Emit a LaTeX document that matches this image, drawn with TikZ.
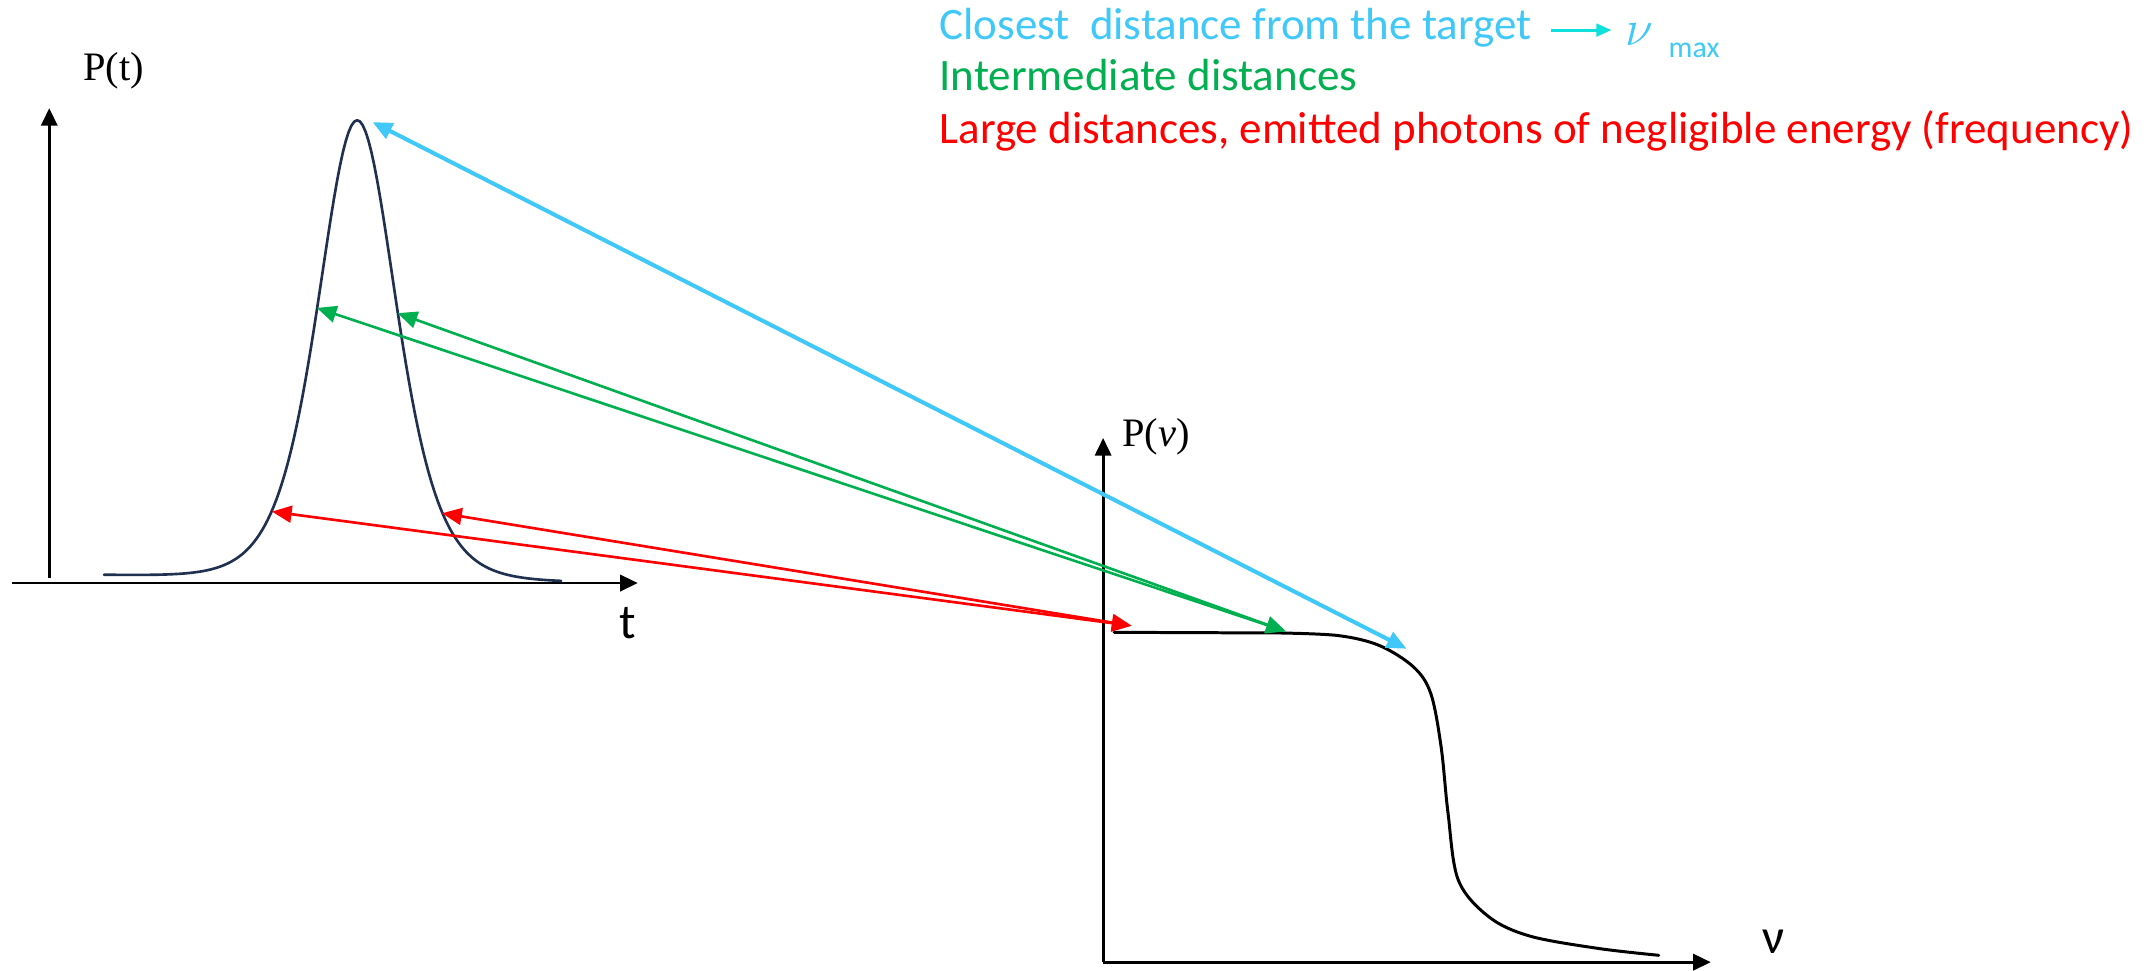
\documentclass[tikz,border=0pt]{standalone}
\usepackage{fontspec}
\setmainfont{Carlito}
\newfontfamily\plotserif{Liberation Serif}
\usetikzlibrary{arrows.meta,calc,positioning}
\definecolor{spBlue}{HTML}{40C8F8}
\definecolor{spCyan}{HTML}{10E0DC}
\definecolor{spGreen}{HTML}{00B050}
\definecolor{spRed}{HTML}{FF0000}
\definecolor{spNavy}{HTML}{1F3050}
\tikzset{
 spec/.style={line cap=round,line join=round},
 axis/.style={draw=black,line width=.8pt,line cap=butt,-{Triangle[length=5pt,width=4.6pt]}},
 pulse/.style={draw=spNavy,line width=.75pt},
 spectrum/.style={draw=black,line width=.85pt},
 link/.style={line width=.75pt,line cap=butt,
   {Triangle[length=5.6pt,width=4.8pt]}-{Triangle[length=5.6pt,width=4.8pt]}},
 nearest/.style={link,draw=spBlue,line width=1.15pt},
 middle/.style={link,draw=spGreen},
 far/.style={link,draw=spRed},
 legarrow/.style={draw=spCyan,line width=.85pt,line cap=butt,-{Triangle[length=4.3pt,width=3.6pt]}},
 axlabel/.style={font=\fontsize{14}{16}\selectfont,inner sep=0pt},
 plabel/.style={font=\plotserif\fontsize{11.5}{13}\selectfont,inner sep=0pt},
 legend/.style={font=\fontsize{12.8}{15}\selectfont,anchor=base west,inner sep=0pt}
}

\begin{document}
\begin{tikzpicture}[spec,x=0.13686mm,y=0.13686mm]
 \useasboundingbox (0,0) rectangle (1568,709);
 \coordinate (tBot) at (36,287); \coordinate (tTop) at (36,630);
 \coordinate (tLeft) at (9,283); \coordinate (tRight) at (466,283);
 \coordinate (fBot) at (806,6); \coordinate (fTop) at (806,389);
 \coordinate (fRight) at (1250,6);
 \draw[axis] (tBot)--(tTop); \draw[axis] (tLeft)--(tRight);
 \draw[axis] (fBot)--(fTop); \draw[axis] (fBot)--(fRight);
 \draw[pulse] plot[domain=76:410,samples=160]
   (\x,{289-0.015*(\x-76)+335/(cosh((\x-261)/38.5))^2});
 \draw[spectrum] (814,247)--(936,246.5) plot[smooth,tension=.55] coordinates
   {(936,246.5) (978,244.6) (1008,237.3) (1033,221.5) (1045.5,202) (1053,163)
    (1058,115) (1065.5,66) (1088,39) (1118,25) (1168,16) (1212,11)};
 \coordinate (peak) at (272.2,619.8);
 \coordinate (riseG) at (231.5,484); \coordinate (fallG) at (290.5,480.2);
 \coordinate (riseR) at (198.7,335.2); \coordinate (fallR) at (323,334);
 \coordinate (lowF) at (826.8,251.8); \coordinate (midF) at (939.5,247.7);
 \coordinate (highF) at (1027.7,235);
 \draw[nearest] (peak)--(highF);
 \draw[middle] (riseG)--(midF); \draw[middle] (fallG)--(midF);
 \draw[far] (riseR)--(lowF); \draw[far] (fallR)--(lowF);
 \node[plabel] (pt) at (83,657) {P(t)};
 \node[plabel] (pnu) at (844.6,390) {P(\textit{ν})};
 \node[axlabel] (tlab) at (459,254) {t};
 \node[axlabel] (nulab) at (1295.5,21) {ν};
 \node[legend,text=spBlue] (closest) at (686,680.5) {Closest\ \ distance from the target};
 \node[legend,text=spBlue] (numax) at ($(closest.base east)+(68,-4.5)$)
   {{\fontsize{15}{16}\selectfont$\nu$}\hspace{4.3pt}\raisebox{-3.5pt}{\fontsize{8.5}{10}\selectfont max}};
 \draw[legarrow] ($(closest.base east)+(14,6.5)$)--($(numax.west |- closest.base)+(-10,6.5)$);
 \node[legend,text=spGreen] (inter) at ($(closest.base west)+(0,-37.5)$) {Intermediate distances};
 \node[legend,text=spRed] (large) at ($(inter.base west)+(0,-38.5)$)
   {Large distances, emitted photons of negligible energy (frequency)};
\end{tikzpicture}
\end{document}
